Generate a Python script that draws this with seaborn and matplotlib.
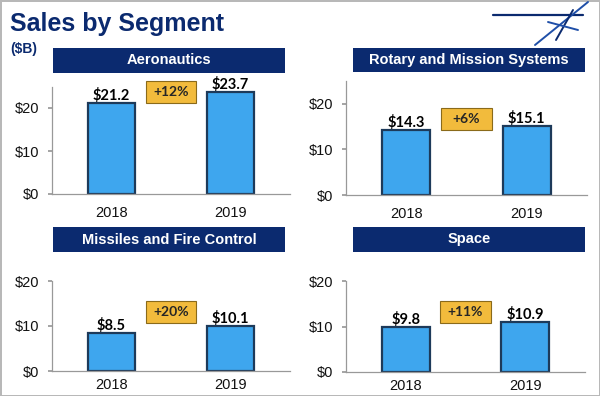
import matplotlib
matplotlib.use("Agg")
import matplotlib.pyplot as plt
from matplotlib.patches import Rectangle
import pandas as pd
import seaborn as sns

# data ($B)
segments = ["Aeronautics", "Rotary and Mission Systems", "Missiles and Fire Control", "Space"]
years = ["2018", "2019"]
sales_2018 = [21.2, 14.3, 8.5, 9.8]
sales_2019 = [23.7, 15.1, 10.1, 10.9]
growth = ["+12%", "+6%", "+20%", "+11%"]

sns.set_theme(style="white")
plt.rcParams["font.family"] = ["Liberation Sans", "DejaVu Sans"]

NAVY = "#0b2a6f"
BAR = "#3ea6ee"
EDGE = "#1d3a5a"
GOLD = "#f2bb3c"
W, H = 600, 396

fig = plt.figure(figsize=(6, 3.96), dpi=100)
fig.patch.set_edgecolor("#b8b8b8")
fig.patch.set_linewidth(2)

# layout in pixels: axes (left, right, y of $0, y of top), header bar (x0, x1, y0, y1)
axes_px = [(52, 290, 194, 86.5), (346, 587, 195, 81), (52, 290, 371, 281), (346, 585, 372, 281)]
ylims = [25, 25, 20, 20]
xpads = [9, 9, 5, 5]
header_px = [(53, 285, 48, 73), (353, 585, 48, 72), (53, 285, 227, 252), (353, 585, 227, 252)]
badge_y = [23.7, 16.7, 13.1, 13.2]

for i, seg in enumerate(segments):
    l, r, y0, y1 = axes_px[i]
    ax = fig.add_axes([l / W, 1 - y0 / H, (r - l) / W, (y0 - y1) / H])
    df = pd.DataFrame({"year": years, "sales": [sales_2018[i], sales_2019[i]]})
    sns.barplot(data=df, x="year", y="sales", ax=ax, color=BAR, width=0.4,
                edgecolor=EDGE, linewidth=1.6, saturation=1)
    ax.bar_label(ax.containers[0], labels=["$%.1f" % v for v in df["sales"]],
                 padding=0, fontsize=10.5, fontweight="bold", family=["Lato", "DejaVu Sans"],
                 color="black")
    ax.set_xlim(-0.5, 1.5)
    ax.set_ylim(0, ylims[i])
    ax.set_yticks([0, 10, 20])
    ax.set_yticklabels(["$0", "$10", "$20"])
    ax.set_xlabel("")
    ax.set_ylabel("")
    ax.set_xticks([-0.5, 0.5, 1.5], minor=True)
    ax.tick_params(axis="x", which="major", length=0, labelsize=10.5, pad=xpads[i],
                   labelcolor="#111111")
    ax.tick_params(axis="x", which="minor", length=4, color="#999999", direction="out")
    ax.tick_params(axis="y", length=3, color="#999999", labelsize=10.5, left=True, pad=6,
                   labelcolor="#111111")
    for s in ["top", "right"]:
        ax.spines[s].set_visible(False)
    for s in ["left", "bottom"]:
        ax.spines[s].set_color("#999999")
        ax.spines[s].set_linewidth(0.9)

    # growth badge between bars
    ax.add_patch(Rectangle((0.5 - 0.21, badge_y[i] - 11 * ylims[i] / (y0 - y1)), 0.42,
                           22 * ylims[i] / (y0 - y1), facecolor=GOLD, edgecolor="#8a6a1a",
                           linewidth=0.8, clip_on=False, zorder=5))
    ax.text(0.5, badge_y[i], growth[i], ha="center", va="center", fontsize=10,
            fontweight="bold", family=["Lato", "DejaVu Sans"], zorder=6)

    # navy header bar
    hx0, hx1, hy0, hy1 = header_px[i]
    fig.add_artist(Rectangle((hx0 / W, 1 - hy1 / H), (hx1 - hx0) / W, (hy1 - hy0) / H,
                             transform=fig.transFigure, facecolor=NAVY, edgecolor="none"))
    fig.text((hx0 + hx1) / 2 / W, 1 - (hy0 + hy1) / 2 / H, seg, ha="center", va="center",
             color="white", fontsize=10.5, fontweight="bold")

fig.text(10 / W, 1 - 31 / H, "Sales by Segment", color=NAVY, fontsize=18, fontweight="bold",
         ha="left", va="baseline")
fig.text(10 / W, 1 - 53 / H, "($B)", color=NAVY, fontsize=10, fontweight="bold",
         ha="left", va="baseline")

# rough star logo in the top right corner
logo = [((493, 15), (583, 15), 1.6, NAVY), ((535, 45), (588, 2), 1.4, "#1f4fa8"),
        ((556, 40), (573, 10), 1.4, NAVY), ((548, 22), (578, 30), 1.4, "#1f4fa8")]
for (xa, ya), (xb, yb), lw, c in logo:
    fig.add_artist(plt.Line2D([xa / W, xb / W], [1 - ya / H, 1 - yb / H],
                              transform=fig.transFigure, color=c, linewidth=lw))

fig.savefig("out.png", dpi=100, edgecolor=fig.get_edgecolor())
